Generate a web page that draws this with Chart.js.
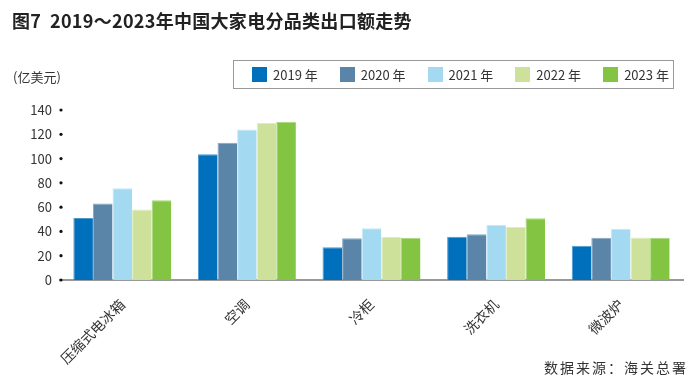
<!DOCTYPE html>
<html>
<head>
<meta charset="utf-8">
<script src="https://cdn.jsdelivr.net/npm/chart.js@4/dist/chart.umd.min.js"></script>
<style>
  html, body { margin: 0; padding: 0; background: #fff; }
  #wrap { position: relative; width: 700px; height: 379px; font-family: 'Noto Sans CJK SC', 'Noto Sans', sans-serif; }
  #title { position: absolute; left: 12px; top: 7px; font-size: 18px; font-weight: bold; color: #222; letter-spacing: 0.3px; }
  #unit { position: absolute; left: 13px; top: 67px; font-size: 13px; color: #333; }
  #legend { position: absolute; left: 233px; top: 60px; width: 441px; height: 29px; border: 1px solid #999;
            display: flex; align-items: center; padding-left: 18px; box-sizing: border-box; gap: 22px; }
  .item { display: flex; align-items: center; font-size: 13px; color: #333; }
  .sw { width: 15px; height: 15px; margin-right: 6px; }
  #source { position: absolute; right: 12px; top: 357px; font-size: 14px; color: #333; letter-spacing: 2px; }
  canvas { position: absolute; left: 0; top: 0; }
</style>
</head>
<body>
<div id="wrap">
  <canvas id="c" width="700" height="379"></canvas>
  <div id="title">图7&nbsp; 2019～2023年中国大家电分品类出口额走势</div>
  <div id="unit">(亿美元)</div>
  <div id="legend"></div>
  <div id="source">数据来源：海关总署</div>
</div>
<script>
const categories = ['压缩式电冰箱', '空调', '冷柜', '洗衣机', '微波炉'];
const years = ['2019 年', '2020 年', '2021 年', '2022 年', '2023 年'];
const v2019 = [51, 103.5, 27, 35.7, 28.3];
const v2020 = [63, 113, 34.3, 37.6, 34.8];
const v2021 = [75.5, 124, 42.6, 45.6, 42];
const v2022 = [58, 129.3, 35.4, 43.7, 35.1];
const v2023 = [65.6, 130.4, 34.8, 50.8, 34.8];
const yTicks = [0, 20, 40, 60, 80, 100, 120, 140];

const COLORS = ['#0070bd', '#5b84a9', '#a3daf2', '#cde19b', '#83c443'];
const EDGES = ['#4a9ad2', '#86a6c2', '#c5e8f7', '#e0edc0', '#a8d77b'];
const series = [v2019, v2020, v2021, v2022, v2023];

// HTML legend
const legend = document.getElementById('legend');
years.forEach((y, i) => {
  const d = document.createElement('div');
  d.className = 'item';
  d.innerHTML = `<span class="sw" style="background:${COLORS[i]}"></span>${y}`;
  legend.appendChild(d);
});

// small round tick marks on y axis
const tickDots = {
  id: 'tickDots',
  afterDraw(chart) {
    const { ctx } = chart;
    const y = chart.scales.y;
    ctx.save();
    ctx.fillStyle = '#111';
    yTicks.forEach(t => {
      ctx.beginPath();
      ctx.arc(chart.chartArea.left + 1, y.getPixelForValue(t), 1.6, 0, Math.PI * 2);
      ctx.fill();
    });
    ctx.restore();
  }
};

new Chart(document.getElementById('c'), {
  type: 'bar',
  data: {
    labels: categories,
    datasets: series.map((d, i) => ({
      label: years[i],
      data: d,
      backgroundColor: COLORS[i],
      borderColor: EDGES[i],
      borderWidth: { top: 1, left: 1, right: 0, bottom: 0 },
      barPercentage: 1,
      categoryPercentage: 0.786,
    }))
  },
  options: {
    responsive: false,
    animation: false,
    layout: { padding: { left: 0, right: 17, top: 110, bottom: 0 } },
    plugins: { legend: { display: false }, tooltip: { enabled: false } },
    scales: {
      x: {
        grid: { display: false, drawTicks: false },
        border: { color: '#999', width: 2 },
        ticks: {
          color: '#333', font: { family: "'Noto Sans CJK SC'", size: 14 },
          minRotation: 45, maxRotation: 45, padding: 16
        },
        afterFit: s => { s.height = 99; }
      },
      y: {
        min: 0, max: 140,
        grid: { display: false, drawTicks: false },
        border: { display: false },
        ticks: {
          stepSize: 20, color: '#333', padding: 8,
          font: { family: "'Noto Sans CJK SC'", size: 13 }
        },
        afterFit: s => { s.width = 60; }
      }
    }
  },
  plugins: [tickDots]
});
</script>
</body>
</html>
